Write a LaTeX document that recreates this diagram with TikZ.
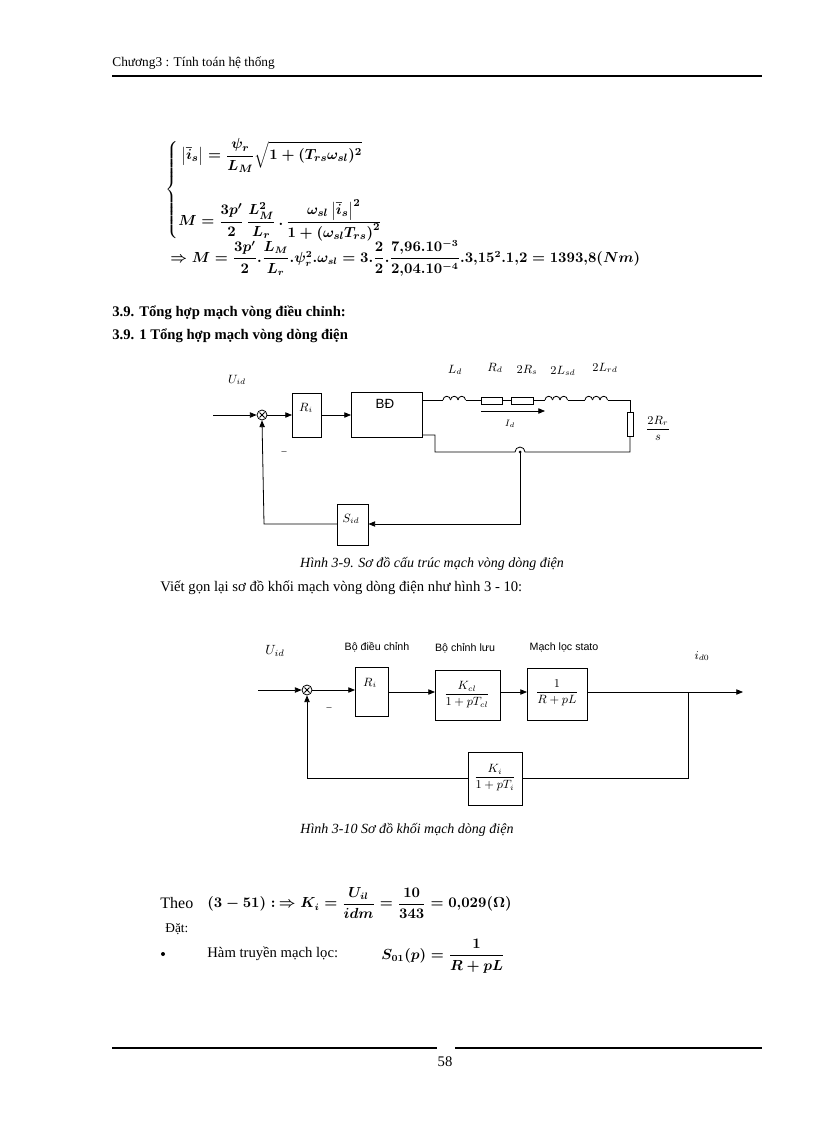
\documentclass[tikz,border=0pt]{standalone}
\usepackage{amsmath}
\usepackage{fontspec}
\setmainfont{Liberation Serif}
\newfontfamily\sansf{Liberation Sans}
\usetikzlibrary{arrows.meta}
\newsavebox\eqAbox
\newsavebox\eqBbox
\newsavebox\eqCbox
\newsavebox\eqDbox
\begin{document}
\sbox\eqAbox{\fontsize{11}{13}\selectfont\boldmath$\left\{\begin{aligned}
&\left|\bar i_s\right| = \dfrac{\psi_r}{L_M}\sqrt{1+(T_{rs}\omega_{sl})^2}\\[16pt]
&M = \dfrac{3p'}{2}\,\dfrac{L_M^2}{L_r}\,.\,\dfrac{\omega_{sl}\left|\bar i_s\right|^2}{1+\left(\omega_{sl}T_{rs}\right)^2}
\end{aligned}\right.$}%
\sbox\eqBbox{\fontsize{10.5}{12}\selectfont\boldmath$\Rightarrow M=\dfrac{3p'}{2}.\dfrac{L_M}{L_r}.\psi_r^2.\omega_{sl}=3.\dfrac{2}{2}.\dfrac{7{,}96.10^{-3}}{2{,}04.10^{-4}}.3{,}15^2.1{,}2=1393{,}8(Nm)$}%
\sbox\eqCbox{\fontsize{10.5}{12}\selectfont\boldmath$(3-51):\ \Rightarrow K_i=\dfrac{U_{il}}{idm}=\dfrac{10}{343}=0{,}029(\Omega)$}%
\sbox\eqDbox{\fontsize{10.5}{12}\selectfont\boldmath$S_{01}(p)=\dfrac{1}{R+pL}$}%
\begin{tikzpicture}[x=0.75pt,y=0.75pt,line width=0.6pt,
  txt/.style={inner sep=0pt,anchor=west,font=\fontsize{11}{13}\selectfont},
  blk/.style={draw,inner sep=0pt},
  lab/.style={inner sep=0pt,font=\fontsize{9}{10}\selectfont\itshape},
  sl/.style={inner sep=0pt,font=\sansf\fontsize{8}{9}\selectfont},
  arr/.style={-{Triangle[length=5pt,width=4pt]}}]
\useasboundingbox (0,0) rectangle (816,-1123);
% header
\node[txt,font=\fontsize{10}{12}\selectfont] (hd) at (112,-63) {Chương3 : Tính toán hệ thống};
\draw[line width=1pt] (112,-76) -- (762,-76);
% equations
\node[inner sep=0pt,anchor=west] (eq1) at (165,-190) {\usebox\eqAbox};
\node[inner sep=0pt,anchor=west] (eq2) at (170,-258) {\usebox\eqBbox};
\node[txt,font=\bfseries\fontsize{11}{13}\selectfont] (h1) at (112,-313) {3.9. Tổng hợp mạch vòng điều chỉnh:};
\node[txt,font=\bfseries\fontsize{11}{13}\selectfont] (h2) at (112,-336) {3.9. 1 Tổng hợp mạch vòng dòng điện};
% ---------- diagram 1
\coordinate (in1) at (213,-415);
\node[circle,draw,minimum size=7.5pt,inner sep=0pt] (s1) at (262,-415) {};
\draw (259.5,-412.5)--(264.5,-417.5) (259.5,-417.5)--(264.5,-412.5);
\node[blk,minimum width=21.75pt,minimum height=33pt,anchor=north west] (ri1) at (292,-393) {};
\node[blk,minimum width=53.25pt,minimum height=34pt,anchor=north west] (bd) at (351,-392) {};
\node[sl,font=\sansf\fontsize{10}{12}\selectfont] (bdt) at (385,-404) {BĐ};
\node[lab] (rit) at (306,-408) {$R_i$};
\draw[arr] (in1) -- (s1.west);
\draw[arr] (s1.east) -- (ri1.west |- s1);
\draw[arr] (ri1.east |- 0,-415) -- (bd.west |- 0,-415);
% top wire with elements
\draw (422,-400) -- (443,-400);
\foreach \x in {443,450.5,458} \draw (\x,-400) arc[start angle=180,end angle=0,radius=3.75];
\draw (465.5,-400) -- (481,-400);
\draw (481,-397) rectangle (502,-404);
\draw (502,-400) -- (511,-400);
\draw (511,-397) rectangle (533,-404);
\draw (533,-400) -- (545,-400);
\foreach \x in {545,552.5,560} \draw (\x,-400) arc[start angle=180,end angle=0,radius=3.75];
\draw (567.5,-400) -- (585,-400);
\foreach \x in {585,592.5,600} \draw (\x,-400) arc[start angle=180,end angle=0,radius=3.75];
\draw (607.5,-400) -- (630,-400) -- (630,-412);
\draw (627,-412) rectangle (633,-436);
\draw (630,-436) -- (630,-452) -- (525,-452) arc[start angle=0,end angle=180,radius=5] -- (435,-452) -- (435,-435) -- (422,-435);
\coordinate (id1) at (481,-411); \coordinate (id2) at (545,-411);
\draw[arr] (id1) -- (id2);
\node[lab,font=\fontsize{7.5}{8}\selectfont\itshape] (idl) at (510,-424) {$I_d$};
\fill (520,-452) circle (1.5);
\node[blk,minimum width=23pt,minimum height=31pt,anchor=north west] (sid) at (337,-504) {};
\node[lab] (sidt) at (351,-519) {$S_{id}$};
\coordinate (fb1) at (520,-524);
\draw[arr] (520,-452) -- (fb1) -- (sid.east |- fb1);
\draw[arr] (sid.west |- fb1) -- (264,-524) -- (s1.south);
\node[lab] (uid1) at (237,-380) {$U_{id}$};
\node[lab,font=\fontsize{7.5}{8}\selectfont] (m1) at (284,-453) {--};
\node[lab] (l1) at (455,-370) {$L_d$};
\node[lab] (l2) at (495,-368) {$R_d$};
\node[lab] (l3) at (527,-370) {$2R_s$};
\node[lab] (l4) at (563,-371) {$2L_{sd}$};
\node[lab] (l5) at (605,-368) {$2L_{rd}$};
\node[lab] (l6) at (658,-428) {$\dfrac{2R_r}{s}$};
\node[inner sep=0pt,font=\itshape\fontsize{10.5}{12}\selectfont] (c1) at (432,-564) {Hình 3-9. Sơ đồ cấu trúc mạch vòng dòng điện};
\node[txt] (p1) at (160,-588) {Viết gọn lại sơ đồ khối mạch vòng dòng điện như hình 3 - 10:};
% ---------- diagram 2
\coordinate (in2) at (258,-690);
\node[circle,draw,minimum size=7.5pt,inner sep=0pt] (s2) at (307,-690) {};
\draw (304.5,-687.5)--(309.5,-692.5) (304.5,-692.5)--(309.5,-687.5);
\node[blk,minimum width=24.75pt,minimum height=36.75pt,anchor=north west] (b1) at (355,-667) {};
\node[lab] (b1t) at (370,-683) {$R_i$};
\node[blk,minimum width=48.75pt,minimum height=37.5pt,anchor=north west] (b2) at (435,-670) {};
\node[inner sep=0pt,font=\fontsize{9}{10}\selectfont] (b2t) at (467,-695) {$\dfrac{K_{cl}}{1+pT_{cl}}$};
\node[blk,minimum width=45pt,minimum height=39pt,anchor=north west] (b3) at (527,-668) {};
\node[inner sep=0pt,font=\fontsize{9}{10}\selectfont] (b3t) at (557,-693) {$\dfrac{1}{R+pL}$};
\node[blk,minimum width=40.5pt,minimum height=39.75pt,anchor=north west] (b4) at (468,-752) {};
\node[inner sep=0pt,font=\fontsize{9}{10}\selectfont] (b4t) at (495,-778) {$\dfrac{K_i}{1+pT_i}$};
\coordinate (out2) at (743,-692);
\coordinate (br) at (688,-692);
\draw[arr] (in2) -- (s2.west);
\draw[arr] (s2.east) -- (b1.west |- s2);
\draw[arr] (b1.east |- 0,-692) -- (b2.west |- 0,-692);
\draw[arr] (b2.east |- 0,-692) -- (b3.west |- 0,-692);
\draw[arr] (b3.east |- 0,-692) -- (out2);
\draw (br) -- (688,-778) -- (b4.east |- 0,-778);
\draw[arr] (b4.west |- 0,-778) -- (307,-778) -- (s2.south);
\node[lab,font=\fontsize{10}{11}\selectfont\itshape] (uid2) at (275,-651) {$U_{id}$};
\node[lab] (id0) at (702,-656) {$i_{d0}$};
\node[lab,font=\fontsize{7.5}{8}\selectfont] (m2) at (329,-709) {--};
\node[sl] (t1) at (377,-647) {Bộ điều chỉnh};
\node[sl] (t2) at (465,-648) {Bộ chỉnh lưu};
\node[sl] (t3) at (564,-647) {Mạch lọc stato};
\node[inner sep=0pt,font=\itshape\fontsize{10.5}{12}\selectfont] (c2) at (407,-830) {Hình 3-10 Sơ đồ khối mạch dòng điện};
% ---------- text at bottom
\node[txt,font=\fontsize{12}{14}\selectfont] (th) at (160,-903) {Theo};
\node[inner sep=0pt,anchor=west] (eq3) at (207,-903) {\usebox\eqCbox};
\node[txt,font=\fontsize{10}{12}\selectfont] (dat) at (165,-929) {Đặt:};
\fill (163,-954) circle (2);
\node[txt] (hm) at (207,-954) {Hàm truyền mạch lọc:};
\node[inner sep=0pt,anchor=west] (eq4) at (381,-956) {\usebox\eqDbox};
% footer
\draw[line width=1pt] (112,-1048) -- (437,-1048) (455,-1048) -- (762,-1048);
\node[inner sep=0pt,font=\fontsize{11}{13}\selectfont] (pg) at (445,-1062) {58};
\end{tikzpicture}
\end{document}
